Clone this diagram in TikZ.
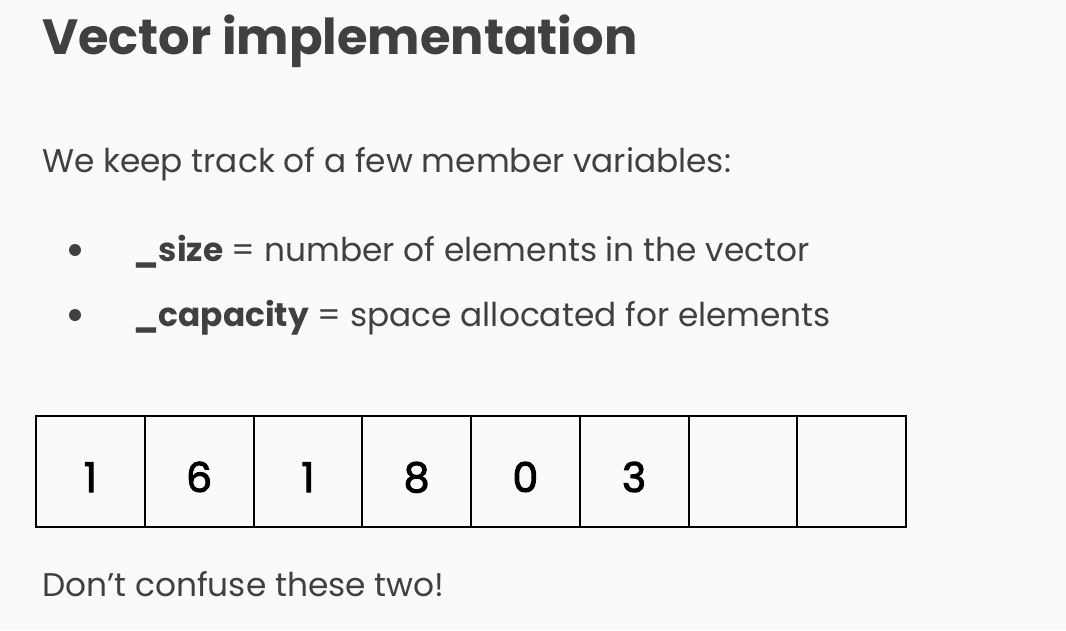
\documentclass[tikz,border=0pt]{standalone}
\usepackage{fontspec}
\setmainfont{Poppins}
\newfontfamily\digitfont{Poppins}[FakeBold=2.5]
\usetikzlibrary{positioning}
\definecolor{ink}{HTML}{404040}
\definecolor{paper}{HTML}{FAFAFA}

\begin{document}
\begin{tikzpicture}[x=1pt, y=-1pt,
        heading/.style={anchor=base west, inner sep=0pt, text=ink, font=\fontsize{49.5}{58}\selectfont\bfseries},
        body/.style={anchor=base west, inner sep=0pt, text=ink, font=\fontsize{32.8}{40}\selectfont},
        dot/.style={circle, fill=ink, inner sep=0pt, minimum size=12pt},
        cell/.style={rectangle, draw=black, line width=2pt, minimum width=108.75pt, minimum height=111pt, text height=41pt, text depth=0pt, font=\digitfont\fontsize{41}{48}\selectfont}
    ]

    % Page
    \fill[paper] (0,0) rectangle (1066,630);
    \useasboundingbox (0,0) rectangle (1066,630);

    % Heading and text
    \node[heading] (title) at (42,54) {Vector implementation};
    \node[body] (intro) at (42,172) {We keep track of a few member variables:};
    \node[dot] (b1) at (75,250) {};
    \node[body] (size) at (133,261) {\textbf{\_size} = number of elements in the vector};
    \node[dot] (b2) at (75,315) {};
    \node[body] (cap) at (133,326) {\textbf{\_capacity} = space allocated for elements};

    % Array cells
    \foreach \v [count=\i] in {1,6,1,8,0,3,{},{}}
        \node[cell] (c\i) at ({36+108.75*(\i-0.5)},471.5) {\v};

    \node[body] (note) at (42,596) {Don’t confuse these two!};

\end{tikzpicture}
\end{document}
